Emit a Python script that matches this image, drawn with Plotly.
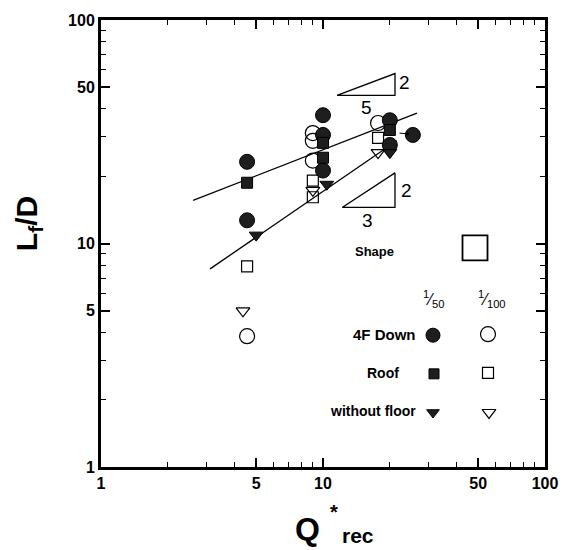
import plotly.graph_objects as go

# ---- data ----
fc_x = [4.55, 4.55, 10.0, 10.0, 10.0, 20.0, 20.0, 25.4]   # 4F Down 1/50 (filled circle)
fc_y = [23.2, 12.7, 37.5, 30.6, 21.2, 35.6, 27.6, 30.6]
fs_x = [4.55, 10.0, 10.0, 20.0]                            # Roof 1/50 (filled square)
fs_y = [18.7, 28.2, 24.2, 32.2]
ft_x = [5.0, 10.4, 20.0]                                   # without floor 1/50 (filled triangle)
ft_y = [10.9, 18.4, 25.5]
oc_x = [4.55, 9.0, 9.0, 9.0, 17.7]                         # 4F Down 1/100 (open circle)
oc_y = [3.85, 31.2, 28.8, 23.5, 34.6]
os_x = [4.55, 9.0, 9.0, 17.7]                              # Roof 1/100 (open square)
os_y = [7.9, 19.1, 16.1, 29.7]
ot_x = [4.36, 9.0, 17.7]                                   # without floor 1/100 (open triangle)
ot_y = [5.0, 17.3, 25.5]

line1_x = [2.6, 26.5]   # slope 2/5 line
line1_y = [15.6, 38.3]
line2_x = [3.1, 21.5]   # slope 2/3 line
line2_y = [7.7, 28.8]

tri1_x = [11.56, 21.1, 21.1, 11.56]
tri1_y = [46.0, 46.0, 57.6, 46.0]
tri2_x = [12.2, 21.1, 21.1, 12.2]
tri2_y = [14.5, 14.5, 20.7, 14.5]

tick_vals = [1, 5, 10, 50, 100]
tick_text = ["1", "5", "10", "50", "100"]
minor_vals = [2, 3, 4, 6, 7, 8, 9, 20, 30, 40, 60, 70, 80, 90]

W, H = 573, 550
L, R, T, B = 101, 545, 16, 467

FONT = "Liberation Sans, Arial, sans-serif"
DARK = "#1e1e1e"

fig = go.Figure()

for xs, ys in [(line1_x, line1_y), (line2_x, line2_y), (tri1_x, tri1_y), (tri2_x, tri2_y)]:
    fig.add_trace(go.Scatter(x=xs, y=ys, mode="lines", line=dict(color="black", width=1.3),
                             showlegend=False, hoverinfo="skip"))

def mk(symbol, filled, size):
    if filled:
        return dict(symbol=symbol, size=size, color=DARK, line=dict(color="black", width=1))
    return dict(symbol=symbol + "-open", size=size, color="black", line=dict(color="black", width=1.2))

series = [
    (oc_x, oc_y, "circle", False, 15),
    (os_x, os_y, "square", False, 11),
    (ot_x, ot_y, "triangle-down", False, 12),
    (fc_x, fc_y, "circle", True, 15),
    (fs_x, fs_y, "square", True, 11),
    (ft_x, ft_y, "triangle-down", True, 12),
]
for xs, ys, sym, filled, sz in series:
    fig.add_trace(go.Scatter(x=xs, y=ys, mode="markers", marker=mk(sym, filled, sz),
                             showlegend=False, cliponaxis=False))

# legend markers on a pixel overlay axis
leg = [
    (475, 246, "square", False, 25),
    (433, 334, "circle", True, 14),
    (488, 333, "circle", False, 15),
    (434, 373, "square", True, 10),
    (488, 372, "square", False, 11),
    (433, 412, "triangle-down", True, 11),
    (489, 412, "triangle-down", False, 12),
]
for px, py, sym, filled, sz in leg:
    m = mk(sym, filled, sz)
    if sz > 20:
        m["line"]["width"] = 1.8
    fig.add_trace(go.Scatter(x=[px], y=[py], xaxis="x2", yaxis="y2", mode="markers",
                             marker=m, showlegend=False, hoverinfo="skip"))

axis_common = dict(
    type="log", range=[0, 2], tickvals=tick_vals, ticktext=tick_text,
    ticks="inside", ticklen=9, tickwidth=1.5, tickcolor="black",
    showline=True, linewidth=3, linecolor="black", mirror="ticks",
    showgrid=False, zeroline=False,
    tickfont=dict(family=FONT, size=16, color="black", weight="bold"),
    minor=dict(tickvals=minor_vals, ticks="inside", ticklen=5, tickwidth=1.2, tickcolor="black", showgrid=False),
)

ann = []
def txt(px, py, s, size, bold=True, xanchor="center", angle=0):
    ann.append(dict(x=(px - L) / (R - L), y=(B - py) / (B - T), xref="paper", yref="paper",
                    text=(f"<b>{s}</b>" if bold else s),
                    showarrow=False, xanchor=xanchor, yanchor="middle", textangle=angle,
                    font=dict(family=FONT, size=size, color="black")))

txt(374, 250, "Shape", 13)
txt(433, 297, "<sup>1</sup>⁄<sub>50</sub>", 16, bold=False)
txt(492, 297, "<sup>1</sup>⁄<sub>100</sub>", 16, bold=False)
txt(418, 333, "4F Down", 15, xanchor="right")
txt(401, 372, "Roof", 14, xanchor="right")
txt(418, 410, "without floor", 14, xanchor="right")
txt(404, 79, "2", 19, bold=False)
txt(366, 104, "5", 19, bold=False)
txt(406, 188, "2", 19, bold=False)
txt(367, 218, "3", 19, bold=False)
txt(307, 530, "Q", 32)
txt(334, 512, "*", 20)
txt(358, 536, "rec", 21)
txt(28, 222, "L<sub>f</sub>/D", 30, angle=-90)

# small arrow to the isolated point
ann.append(dict(x=409, y=131, ax=398, ay=130, xref="x2", yref="y2", axref="x2", ayref="y2",
                showarrow=True, arrowhead=1, arrowsize=0.8, arrowwidth=1, arrowcolor="black", text=""))

fig.update_layout(
    width=W, height=H,
    margin=dict(l=L, r=W - R, t=T, b=H - B),
    paper_bgcolor="white", plot_bgcolor="white",
    xaxis=axis_common,
    yaxis=axis_common,
    xaxis2=dict(overlaying="x", range=[L, R], visible=False, fixedrange=True),
    yaxis2=dict(overlaying="y", range=[B, T], visible=False, fixedrange=True),
    annotations=ann,
    showlegend=False,
)

fig.write_html("out.html")
